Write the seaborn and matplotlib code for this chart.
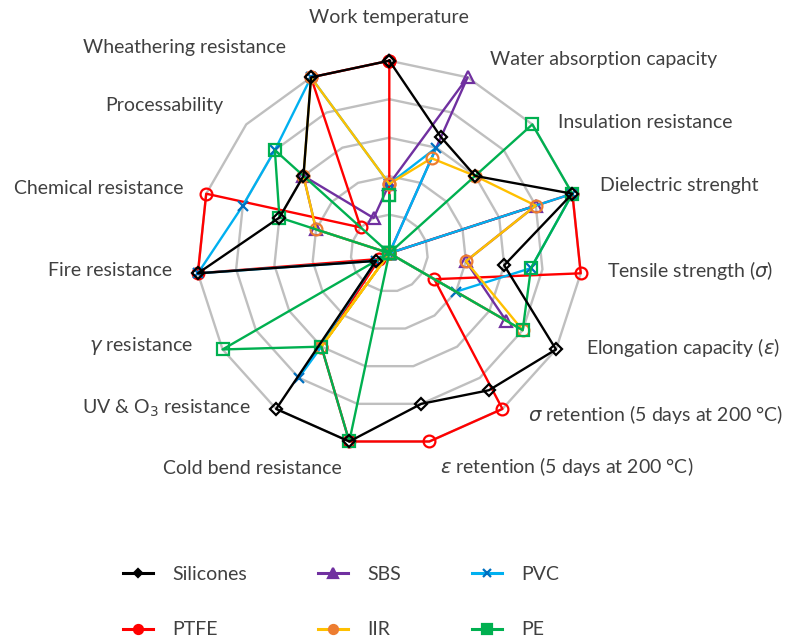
import numpy as np
import pandas as pd
import matplotlib
matplotlib.use("Agg")
import matplotlib.pyplot as plt
from matplotlib.lines import Line2D
import seaborn as sns

categories = [
    "Work temperature", "Water absorption capacity", "Insulation resistance",
    "Dielectric strenght", r"Tensile strength ($\sigma$)", r"Elongation capacity ($\varepsilon$)",
    r"$\sigma$ retention (5 days at 200 °C)", r"$\varepsilon$ retention (5 days at 200 °C)",
    "Cold bend resistance", r"UV & O$_3$ resistance", r"$\gamma$ resistance",
    "Fire resistance", "Chemical resistance", "Processability", "Wheathering resistance",
]

materials = ["Silicones", "SBS", "PVC", "PTFE", "IIR", "PE"]

silicones = [5, 3.3, 3, 5, 3, 5, 4.4, 4, 5, 5, 0.4, 5, 3, 3, 5]
sbs = [1.8, 5, 0, 4, 2, 3.5, 0, 0, 0, 0, 0, 0, 2, 3, 1]
pvc = [1.8, 3, 0, 5, 3.7, 2, 0, 0, 0, 4, 0.4, 5, 4, 4, 5]
ptfe = [5, 0, 0, 5, 5, 1.35, 5, 5, 5, 3, 0.3, 5, 5, 1, 5]
iir = [1.8, 2.7, 3, 4, 2, 4, 0, 0, 0, 3, 0, 0, 2, 3, 5]
pe = [1.5, 0, 5, 5, 3.7, 4, 0, 0, 5, 3, 5, 0, 3, 4, 0]

series = [silicones, sbs, pvc, ptfe, iir, pe]

line_colors = {"Silicones": "#000000", "SBS": "#7030A0", "PVC": "#00B0F0",
               "PTFE": "#FF0000", "IIR": "#FFC000", "PE": "#00B050"}
edge_colors = {"Silicones": "#000000", "SBS": "#7030A0", "PVC": "#0070C0",
               "PTFE": "#FF0000", "IIR": "#ED7D31", "PE": "#00B050"}
marker_map = {"Silicones": "D", "SBS": "^", "PVC": "x",
              "PTFE": "o", "IIR": "o", "PE": "s"}
marker_size = {"Silicones": 6.5, "SBS": 8.5, "PVC": 7.5, "PTFE": 8.5, "IIR": 8.5, "PE": 8.5}
# which series sits on top of which (black drawn last, purple first)
draw_order = {"SBS": 3, "PTFE": 3.5, "PVC": 4, "IIR": 6, "PE": 7, "Silicones": 8}

n = len(categories)
angles = np.linspace(0, 2 * np.pi, n, endpoint=False)

# long table, first point repeated so every polygon closes
rows = []
for name, vals in zip(materials, series):
    for i in range(n + 1):
        k = i % n
        rows.append({"material": name, "order": i,
                     "theta": angles[k] + (2 * np.pi if i == n else 0),
                     "value": vals[k]})
df = pd.DataFrame(rows)

W, H = 787, 644
fig = plt.figure(figsize=(W / 100, H / 100), dpi=100)
cx, cy, R = 389.3, 253.2, 192.5
ax = fig.add_axes([(cx - R) / W, (H - cy - R) / H, 2 * R / W, 2 * R / H], projection="polar")
ax.set_theta_zero_location("N")
ax.set_theta_direction(-1)
ax.set_ylim(0, 5)
ax.grid(False)
ax.set_xticks([])
ax.set_yticks([])
ax.spines["polar"].set_visible(False)
ax.set_facecolor("none")

# polygon rings
ring_theta = np.append(angles, angles[0] + 2 * np.pi)
for level in range(1, 6):
    ax.plot(ring_theta, [level] * (n + 1), color="#BFBFBF", lw=1.7, zorder=1, clip_on=False)

n_before = len(ax.lines)
sns.lineplot(data=df, x="theta", y="value", hue="material", hue_order=materials,
             palette=line_colors, sort=False, estimator=None, units="material",
             legend=False, ax=ax, lw=1.7, clip_on=False)

for j, line in enumerate(ax.lines[n_before:]):
    name = materials[j]
    line.set_marker(marker_map[name])
    line.set_markeredgecolor(edge_colors[name])
    line.set_markerfacecolor("none")
    line.set_markeredgewidth(1.6)
    line.set_markersize(marker_size[name])
    line.set_zorder(draw_order[name])

ax.set_xlabel("")
ax.set_ylabel("")

# category labels
label_pos = [
    (389, 17, "center"), (490, 60, "left"), (558, 122, "left"), (600, 185, "left"),
    (607, 270, "left"), (586, 347, "left"), (528, 414, "left"), (440, 467, "left"),
    (342, 468, "right"), (251, 408, "right"), (193, 346, "right"), (172, 271, "right"),
    (183, 188, "right"), (223, 106, "right"), (286, 48, "right"),
]
font = "Lato"
for (x, y, ha), lab in zip(label_pos, categories):
    fig.text(x / W, 1 - y / H, lab, ha=ha, va="center", fontsize=14,
             color="#404040", family=font)

# legend, row-wise like the original
handles = {}
for name in materials:
    handles[name] = Line2D([], [], color=line_colors[name], lw=2.2, marker=marker_map[name],
                           markersize=marker_size[name] - 2, markeredgecolor=edge_colors[name],
                           markerfacecolor=edge_colors[name], markeredgewidth=1.6)
leg_order = ["Silicones", "PTFE", "SBS", "IIR", "PVC", "PE"]
fig.legend([handles[m] for m in leg_order], leg_order, ncol=3, loc="upper left",
           bbox_to_anchor=(105 / W, 1 - 548 / H), frameon=False, handlelength=1.55,
           columnspacing=3.65, labelspacing=2.0, handletextpad=1.0,
           prop={"family": font, "size": 14}, labelcolor="#404040")

fig.savefig("out.png", dpi=100, facecolor="white")
